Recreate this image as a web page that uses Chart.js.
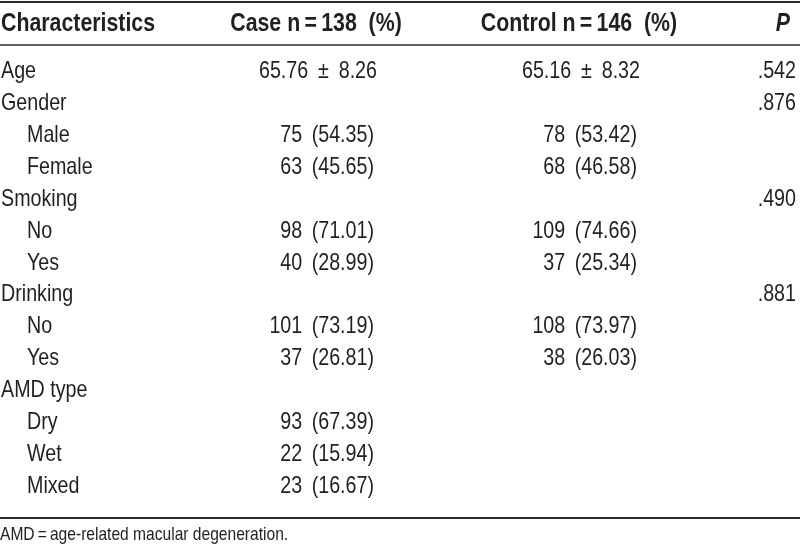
<!DOCTYPE html>
<html>
<head>
<meta charset="utf-8">
<script src="https://cdn.jsdelivr.net/npm/chart.js@4/dist/chart.umd.min.js"></script>
<style>
  html, body { margin: 0; padding: 0; background: #fff; }
  #wrap { width: 800px; height: 557px; }
</style>
</head>
<body>
<div id="wrap"><canvas id="table" width="800" height="557"></canvas></div>
<script>
// Table 1 — baseline characteristics, drawn on a Chart.js canvas.
// Rows sit on a category y scale; cells are text placed by a plugin.

const headers = ["Characteristics", "Case n\u2009=\u2009138  (%)", "Control n\u2009=\u2009146  (%)", "P"];
const rowLabels = ["Age", "Gender", "Male", "Female", "Smoking", "No", "Yes",
  "Drinking", "No", "Yes", "AMD type", "Dry", "Wet", "Mixed"];
const rowIndent = [0, 0, 1, 1, 0, 1, 1, 0, 1, 1, 0, 1, 1, 1];

const ageMean = [65.76, 65.16];
const ageSd = [8.26, 8.32];
const caseCounts = [null, null, 75, 63, null, 98, 40, null, 101, 37, null, 93, 22, 23];
const casePct = [null, null, 54.35, 45.65, null, 71.01, 28.99, null, 73.19, 26.81, null, 67.39, 15.94, 16.67];
const controlCounts = [null, null, 78, 68, null, 109, 37, null, 108, 38, null, null, null, null];
const controlPct = [null, null, 53.42, 46.58, null, 74.66, 25.34, null, 73.97, 26.03, null, null, null, null];
const pValues = [0.542, 0.876, null, null, 0.490, null, null, 0.881, null, null, null, null, null, null];

const footnote = "AMD\u2009=\u2009age-related macular degeneration.";

// detect a condensed face, fall back to Liberation Sans squeezed a bit
function hasFont(name) {
  const c = document.createElement("canvas").getContext("2d");
  c.font = "40px monospace";
  const a = c.measureText("Characteristics 0123").width;
  c.font = `40px "${name}", monospace`;
  return c.measureText("Characteristics 0123").width !== a;
}
const NARROW = hasFont("Liberation Sans Narrow");
const FAMILY = NARROW ? '"Liberation Sans Narrow"' : '"Liberation Sans", Arial, sans-serif';
const SQUEEZE = NARROW ? 1 : 0.82;
const INK = "#231f20";

function fmtPct(n, p) {
  return n == null ? "" : `${n} \u2009(${p.toFixed(2)})`;
}
function fmtP(v) {
  return v == null ? "" : v.toFixed(3).replace(/^0/, "");
}

function text(ctx, str, x, y, align, font) {
  ctx.save();
  ctx.font = font;
  ctx.fillStyle = INK;
  ctx.textBaseline = "alphabetic";
  ctx.translate(x, y);
  ctx.scale(SQUEEZE, 1);
  ctx.textAlign = align;
  ctx.fillText(str, 0, 0);
  ctx.restore();
}

function rule(ctx, y, w) {
  ctx.save();
  ctx.strokeStyle = "#2b2b2b";
  ctx.lineWidth = w;
  ctx.beginPath();
  ctx.moveTo(0, y);
  ctx.lineTo(800, y);
  ctx.stroke();
  ctx.restore();
}

const tablePlugin = {
  id: "tableCells",
  afterDraw(chart) {
    const { ctx, scales: { x, y } } = chart;
    const body = `24px ${FAMILY}`;
    const bold = `bold 26px ${FAMILY}`;

    rule(ctx, 2, 2);
    rule(ctx, 45, 1.5);
    rule(ctx, 518, 2);

    text(ctx, headers[0], x.getPixelForValue(1), 31, "left", bold);
    text(ctx, headers[1], x.getPixelForValue(316), 31, "center", bold);
    text(ctx, headers[2], x.getPixelForValue(579), 31, "center", bold);
    text(ctx, headers[3], x.getPixelForValue(790), 31, "right", `italic ${bold}`);

    rowLabels.forEach((label, i) => {
      const base = y.getPixelForValue(i) + 8;
      text(ctx, label, x.getPixelForValue(rowIndent[i] ? 27 : 1), base, "left", body);
      if (i === 0) {
        text(ctx, `${ageMean[0].toFixed(2)}\u2002±\u2002${ageSd[0].toFixed(2)}`, x.getPixelForValue(377), base, "right", body);
        text(ctx, `${ageMean[1].toFixed(2)}\u2002±\u2002${ageSd[1].toFixed(2)}`, x.getPixelForValue(640), base, "right", body);
      } else {
        text(ctx, fmtPct(caseCounts[i], casePct[i]), x.getPixelForValue(374), base, "right", body);
        text(ctx, fmtPct(controlCounts[i], controlPct[i]), x.getPixelForValue(637), base, "right", body);
      }
      text(ctx, fmtP(pValues[i]), x.getPixelForValue(796), base, "right", body);
    });

    text(ctx, footnote, x.getPixelForValue(0), 540, "left", `19px ${FAMILY}`);
  },
};

new Chart(document.getElementById("table"), {
  type: "bar",
  data: {
    labels: rowLabels.map((l, i) => i),
    datasets: [{ data: rowLabels.map(() => 0), backgroundColor: "rgba(0,0,0,0)" }],
  },
  options: {
    indexAxis: "y",
    responsive: false,
    animation: false,
    events: [],
    layout: { padding: { top: 54, bottom: 56, left: 0, right: 0 } },
    scales: {
      x: { type: "linear", min: 0, max: 800, display: false },
      y: { type: "category", offset: true, display: false },
    },
    plugins: { legend: { display: false }, tooltip: { enabled: false } },
  },
  plugins: [tablePlugin],
});
</script>
</body>
</html>
